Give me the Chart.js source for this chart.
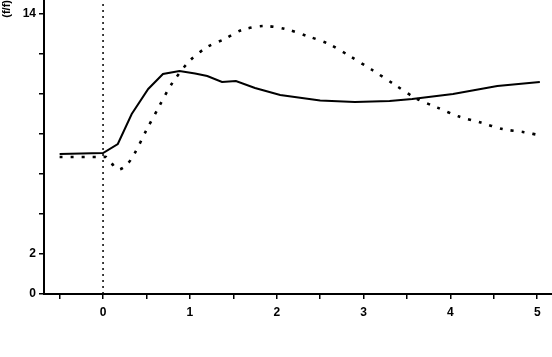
<!DOCTYPE html>
<html>
<head>
<meta charset="utf-8">
<script src="https://cdn.jsdelivr.net/npm/chart.js@4"></script>
<style>
html,body{margin:0;padding:0;background:#fff;}
#wrap{width:552px;height:357px;position:relative;}
</style>
</head>
<body>
<div id="wrap"><canvas id="c"></canvas></div>
<script>
// Data
const solidX = [-0.5, 0.0, 0.17, 0.33, 0.52, 0.69, 0.88, 1.06, 1.2, 1.37, 1.53, 1.75, 2.04, 2.5, 2.9, 3.3, 3.56, 4.03, 4.54, 5.03];
const solidY = [7.0, 7.05, 7.5, 9.0, 10.25, 11.0, 11.15, 11.03, 10.9, 10.6, 10.65, 10.3, 9.95, 9.67, 9.6, 9.65, 9.75, 10.0, 10.4, 10.6];
const dottedX = [-0.5, 0.0, 0.04, 0.17, 0.27, 0.36, 0.5, 0.64, 0.79, 1.0, 1.2, 1.4, 1.6, 1.85, 2.1, 2.35, 2.6, 2.85, 3.1, 3.35, 3.6, 3.85, 4.1, 4.35, 4.6, 4.85, 5.05];
const dottedY = [6.85, 6.85, 6.84, 6.23, 6.45, 7.0, 8.2, 9.33, 10.5, 11.67, 12.35, 12.75, 13.2, 13.4, 13.25, 12.9, 12.5, 11.87, 11.2, 10.49, 9.79, 9.32, 8.87, 8.57, 8.25, 8.09, 7.92];
const markerX = [0, 0];
const markerY = [0, 14.7];
const xTickValues = [-0.5, 0, 0.5, 1, 1.5, 2, 2.5, 3, 3.5, 4, 4.5, 5];
const xTickLabels = ['', '0', '', '1', '', '2', '', '3', '', '4', '', '5'];
const yTickValues = [0, 2, 4, 6, 8, 10, 12, 14];
const yTickLabels = ['0', '2', '', '', '', '', '', '14'];
const yTitle = '(f/f)';

const pts = (xs, ys) => xs.map((x, i) => ({x: x, y: ys[i]}));
const font = {family: '"Liberation Sans", Arial, sans-serif', size: 12, weight: 'bold'};

new Chart(document.getElementById('c'), {
  type: 'line',
  data: {
    datasets: [
      {data: pts(solidX, solidY), borderColor: '#000', borderWidth: 2, pointRadius: 0, tension: 0, fill: false},
      {data: pts(dottedX, dottedY), borderColor: '#000', borderWidth: 2.6, borderDash: [3, 8], pointRadius: 0, tension: 0.3, fill: false},
      {data: pts(markerX, markerY), borderColor: '#000', borderWidth: 1.5, borderDash: [2, 4], pointRadius: 0, fill: false}
    ]
  },
  options: {
    responsive: true,
    maintainAspectRatio: false,
    animation: false,
    events: [],
    layout: {padding: 0},
    plugins: {legend: {display: false}, tooltip: {enabled: false}},
    scales: {
      x: {
        type: 'linear',
        min: -0.68,
        max: 5.17,
        afterBuildTicks: s => { s.ticks = xTickValues.map(v => ({value: v})); },
        afterFit: s => { s.height = 63; s.paddingLeft = 0; s.paddingRight = 0; },
        ticks: {
          autoSkip: false,
          maxRotation: 0,
          padding: 6,
          color: '#000',
          font: font,
          callback: (v, i) => xTickLabels[i]
        },
        grid: {drawOnChartArea: false, drawTicks: true, tickLength: 5, color: '#000', lineWidth: 1.5},
        border: {display: true, color: '#000', width: 2}
      },
      y: {
        type: 'linear',
        min: 0,
        max: 14.7,
        afterBuildTicks: s => { s.ticks = yTickValues.map(v => ({value: v})); },
        afterFit: s => { s.width = 44; s.paddingTop = 0; s.paddingBottom = 0; },
        ticks: {
          autoSkip: false,
          padding: 3,
          color: '#000',
          font: font,
          callback: (v, i) => yTickLabels[i]
        },
        title: {display: true, text: yTitle, align: 'end', color: '#000', font: {family: '"Liberation Sans", Arial, sans-serif', size: 11, weight: 'bold'}, padding: {top: 0, bottom: 0}},
        grid: {drawOnChartArea: false, drawTicks: true, tickLength: 5, color: '#000', lineWidth: 1.5},
        border: {display: true, color: '#000', width: 2}
      }
    }
  }
});
</script>
</body>
</html>
